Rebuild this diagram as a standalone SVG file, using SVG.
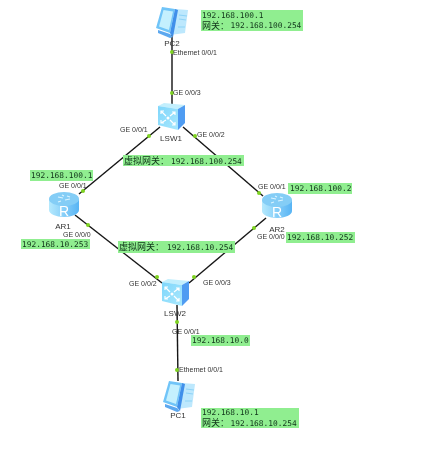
<svg xmlns="http://www.w3.org/2000/svg" width="445" height="450" viewBox="0 0 445 450">
<style>
.port{font:7px "Liberation Sans",Arial,sans-serif;fill:#333}
.name{font:8px "Liberation Sans",Arial,sans-serif;fill:#333}
.ip{font:7.85px "DejaVu Sans Mono",monospace;fill:#10351a}
.zh{font:9px "Noto Sans CJK SC",sans-serif;fill:#10351a}
.hl{fill:#90ee90}
.link{stroke:#141414;stroke-width:1.4;fill:none}
.dot{fill:#7ed321}
.r{font:14px "Liberation Sans",Arial,sans-serif;fill:#fff}
</style>
<defs>
<filter id="soft" x="0" y="0" width="100%" height="100%"><feGaussianBlur stdDeviation="0.3"/></filter>
<linearGradient id="cyl" x1="0" x2="1" y1="0" y2="0"><stop offset="0" stop-color="#b5e9fd"/><stop offset="1" stop-color="#58b4f4"/></linearGradient>
<linearGradient id="face" x1="0" x2="1" y1="0" y2="1"><stop offset="0" stop-color="#7fd6fb"/><stop offset="1" stop-color="#a9e8fd"/></linearGradient>
<g id="router">
<path d="M0 7V18C0 22 7 25 15 25S30 22 30 18V7Z" fill="url(#cyl)"/>
<ellipse cx="15" cy="7" rx="15" ry="7" fill="#84cdf6"/>
<path d="M9 5l5 1M16 8l5-1M12 9l-3 1M18 4l3 1M13 3l2 1" stroke="#d9f3ff" stroke-width="1.2" fill="none"/>
<text class="r" x="15" y="24" text-anchor="middle">R</text>
</g>
<g id="switch">
<path d="M0 3L6 0L27 2L20 6Z" fill="#c3effd"/>
<path d="M20 6L27 2L27 20L20 27Z" fill="#4f9cf2"/>
<path d="M0 3L20 6L20 27L0 22Z" fill="url(#face)"/>
<path d="M8 13L3 8M3 11V8H6M12 13L17 9M14 9H17V12M8 17L3 20M3 17V20H6M12 17L17 22M17 19V22H14" stroke="#fff" stroke-width="1.2" fill="none"/>
<circle cx="10" cy="15" r="1.5" fill="#fff"/>
</g>
<g id="pc">
<path d="M20 4L33 5L30 28L15 30Z" fill="#bde8fd"/>
<path d="M24 10L32 11M24 14L31 15M23 22L30 22" stroke="#8ed3f7" stroke-width="1.2"/>
<path d="M7 2L20 4L15 28L1 23Z" fill="#6fc4f8"/>
<path d="M8.500 5L18 6.500L14 25L4 21.500Z" fill="#c4f0fe"/>
<path d="M20 4L23 5L18 32L15 28Z" fill="#3f8fea"/>
<path d="M3 25L15 29L18 32L15 33L3 28Z" fill="#5ca8ef"/>
</g>
</defs>
<g filter="url(#soft)">
<g id="connectors">
<line class="link" x1="172" y1="34" x2="172" y2="105"/>
<line class="link" x1="160" y1="127" x2="79" y2="194"/>
<line class="link" x1="183" y1="127" x2="263" y2="196"/>
<line class="link" x1="75" y1="215" x2="162" y2="283"/>
<line class="link" x1="266" y1="218" x2="189" y2="283"/>
<line class="link" x1="177" y1="305" x2="178" y2="381"/>
<g class="dot">
<circle cx="172" cy="52" r="2"/><circle cx="172" cy="93" r="2"/>
<circle cx="149" cy="136" r="2"/><circle cx="195" cy="136" r="2"/>
<circle cx="83" cy="191" r="2"/><circle cx="259" cy="193" r="2"/>
<circle cx="88" cy="225" r="2"/><circle cx="254" cy="228" r="2"/>
<circle cx="157" cy="277" r="2"/><circle cx="194" cy="277" r="2"/>
<circle cx="177" cy="322" r="2"/><circle cx="177" cy="370" r="2"/>
</g>
</g>
<g id="PC2"><use href="#pc" x="155" y="5"/><text class="name" x="172" y="46" text-anchor="middle">PC2</text></g>
<g id="LSW1"><use href="#switch" x="158" y="103"/><text class="name" x="171" y="141" text-anchor="middle">LSW1</text></g>
<g id="AR1"><use href="#router" x="49" y="192"/><text class="name" x="63" y="229" text-anchor="middle">AR1</text></g>
<g id="AR2"><use href="#router" x="262" y="193"/><text class="name" x="277" y="232" text-anchor="middle">AR2</text></g>
<g id="LSW2"><use href="#switch" x="162" y="279"/><text class="name" x="175" y="316" text-anchor="middle">LSW2</text></g>
<g id="PC1"><use href="#pc" x="162" y="379"/><text class="name" x="178" y="418" text-anchor="middle">PC1</text></g>
<g id="port-labels">
<text class="port" x="173" y="55">Ethernet 0/0/1</text>
<text class="port" x="173" y="95">GE 0/0/3</text>
<text class="port" x="120" y="132">GE 0/0/1</text>
<text class="port" x="197" y="137">GE 0/0/2</text>
<text class="port" x="59" y="188">GE 0/0/1</text>
<text class="port" x="63" y="236.500">GE 0/0/0</text>
<text class="port" x="258" y="189">GE 0/0/1</text>
<text class="port" x="257" y="239">GE 0/0/0</text>
<text class="port" x="129" y="286">GE 0/0/2</text>
<text class="port" x="203" y="285">GE 0/0/3</text>
<text class="port" x="172" y="334">GE 0/0/1</text>
<text class="port" x="179" y="372">Ethernet 0/0/1</text>
</g>
<g id="ip-labels">
<rect class="hl" x="201" y="10" width="102" height="21"/>
<text class="ip" x="202" y="18">192.168.100.1</text>
<text class="zh" x="202" y="28.500">网关：</text><text class="ip" x="230.500" y="28">192.168.100.254</text>
<rect class="hl" x="123" y="155" width="121" height="11"/>
<text class="zh" x="124" y="163.500">虚拟网关：</text><text class="ip" x="171" y="164">192.168.100.254</text>
<rect class="hl" x="30" y="170" width="63" height="11"/>
<text class="ip" x="31" y="177.500">192.168.100.1</text>
<rect class="hl" x="288" y="183" width="64" height="11"/>
<text class="ip" x="290" y="190.500">192.168.100.2</text>
<rect class="hl" x="286" y="232" width="69" height="11"/>
<text class="ip" x="287" y="239.500">192.168.10.252</text>
<rect class="hl" x="21" y="239" width="69" height="10"/>
<text class="ip" x="22" y="246.500">192.168.10.253</text>
<rect class="hl" x="118" y="241" width="117" height="12"/>
<text class="zh" x="119" y="249.500">虚拟网关：</text><text class="ip" x="167" y="249.500">192.168.10.254</text>
<rect class="hl" x="191" y="335" width="59" height="11"/>
<text class="ip" x="192" y="342.500">192.168.10.0</text>
<rect class="hl" x="201" y="408" width="98" height="20"/>
<text class="ip" x="202" y="415">192.168.10.1</text>
<text class="zh" x="202" y="425.500">网关：</text><text class="ip" x="230.500" y="425.500">192.168.10.254</text>
</g>
</g>
</svg>
